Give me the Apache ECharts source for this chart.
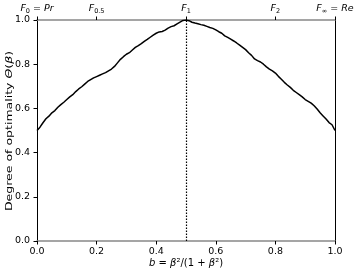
<!DOCTYPE html>
<html><head><meta charset="utf-8">
<script src="https://cdn.jsdelivr.net/npm/echarts@6/dist/echarts.min.js"></script>
<style>html,body{margin:0;padding:0;background:#fff}#c{width:357px;height:276px}</style>
</head><body><div id="c"></div>
<script>
const bValues = [0.00,0.01,0.02,0.03,0.04,0.05,0.06,0.07,0.08,0.09,0.10,0.11,0.12,0.13,0.14,0.15,0.16,0.17,0.18,0.19,0.20,0.21,0.22,0.23,0.24,0.25,0.26,0.27,0.28,0.29,0.30,0.31,0.32,0.33,0.34,0.35,0.36,0.37,0.38,0.39,0.40,0.41,0.42,0.43,0.44,0.45,0.46,0.47,0.48,0.49,0.50,
0.51,0.52,0.53,0.54,0.55,0.56,0.57,0.58,0.59,0.60,0.61,0.62,0.63,0.64,0.65,0.66,0.67,0.68,0.69,0.70,0.71,0.72,0.73,0.74,0.75,0.76,0.77,0.78,0.79,0.80,0.81,0.82,0.83,0.84,0.85,0.86,0.87,0.88,0.89,0.90,0.91,0.92,0.93,0.94,0.95,0.96,0.97,0.98,0.99,1.00];
const optimality = [0.500,0.515,0.535,0.553,0.565,0.580,0.590,0.605,0.617,0.628,0.640,0.652,0.662,0.676,0.688,0.698,0.710,0.722,0.730,0.738,0.744,0.750,0.756,0.762,0.770,0.778,0.790,0.806,0.822,0.834,0.845,0.852,0.864,0.876,0.884,0.893,0.903,0.912,0.922,0.932,0.940,0.946,0.948,0.954,0.963,0.970,0.974,0.982,0.990,0.998,1.000,
0.997,0.990,0.986,0.983,0.979,0.976,0.971,0.966,0.962,0.955,0.947,0.940,0.928,0.921,0.913,0.905,0.896,0.886,0.876,0.866,0.852,0.840,0.824,0.816,0.810,0.800,0.788,0.778,0.770,0.760,0.745,0.732,0.718,0.706,0.695,0.682,0.672,0.662,0.652,0.640,0.632,0.624,0.612,0.597,0.580,0.566,0.552,0.536,0.526,0.500];
const bottomTicks = [0, 0.2, 0.4, 0.6, 0.8, 1.0];
const yTicks = [0, 0.2, 0.4, 0.6, 0.8, 1.0];
const topTickValues = [0, 0.2, 0.5, 0.8, 1.0];
const topTickLabels = ['{i|F}{s|0}{n| = }{i|Pr}', '{i|F}{s|0.5}', '{i|F}{s|1}', '{i|F}{s|2}', '{i|F}{s|∞}{n| = }{i|Re}'];
const yAxisTitle = '{n|Degree of optimality }{i|Θ}{n|(}{i|β}{n|)}';
const xAxisTitle = '{i|b}{n| = }{i|β}{n|²/(1 + }{i|β}{n|²)}';
const F1Position = 0.5;

const FONT = 'DejaVu Sans';
const FS = 9.5;
const richStyles = {
  i: {fontFamily: FONT, fontSize: FS, fontStyle: 'italic', color: '#000'},
  n: {fontFamily: FONT, fontSize: FS, color: '#000'},
  s: {fontFamily: FONT, fontSize: 6.5, color: '#000', padding: [5, 0, 0, 0]}
};
const nameRich = {
  i: {fontFamily: FONT, fontSize: 10, fontStyle: 'italic', fill: '#000', color: '#000'},
  n: {fontFamily: FONT, fontSize: 10, fill: '#000', color: '#000'}
};
const tickStyle = {show: true, inside: false, length: 3.5, lineStyle: {color: '#000', width: 1}};
const chart = echarts.init(document.getElementById('c'), null, {renderer: 'canvas'});
chart.setOption({
  animation: false,
  backgroundColor: '#fff',
  grid: {left: 37, right: 22, top: 20, bottom: 35, outerBoundsMode: 'none', containLabel: false},
  graphic: [{
    type: 'text', x: 10, y: 131, rotation: Math.PI / 2, scaleX: 1.25, scaleY: 0.95,
    style: {text: yAxisTitle, align: 'center', verticalAlign: 'middle', rich: nameRich, fill: '#000', font: '10px "DejaVu Sans"'}
  }],
  xAxis: [{
    type: 'value', position: 'bottom', min: 0, max: 1, interval: 0.2,
    axisLine: {show: true, onZero: false, lineStyle: {color: '#888', width: 1.5}},
    axisTick: Object.assign({}, tickStyle, {customValues: bottomTicks}),
    axisLabel: {fontFamily: FONT, fontSize: FS, color: '#000', margin: 6, customValues: bottomTicks, formatter: v => v.toFixed(1)},
    splitLine: {show: false},
    name: xAxisTitle, nameLocation: 'middle', nameGap: 17, nameMoveOverlap: false,
    nameTextStyle: {rich: nameRich}
  }, {
    type: 'value', position: 'top', min: 0, max: 1, interval: 0.1,
    axisLine: {show: true, onZero: false, lineStyle: {color: '#888', width: 1.5}},
    axisTick: Object.assign({}, tickStyle, {customValues: topTickValues}),
    axisLabel: {margin: 5, customValues: topTickValues,
      formatter: v => { const k = topTickValues.findIndex(t => Math.abs(t - v) < 1e-6); return k >= 0 ? topTickLabels[k] : ''; },
      rich: richStyles},
    splitLine: {show: false}
  }],
  yAxis: [{
    type: 'value', position: 'left', min: 0, max: 1, interval: 0.2,
    axisLine: {show: true, onZero: false, lineStyle: {color: '#000', width: 1}},
    axisTick: Object.assign({}, tickStyle, {customValues: yTicks}),
    axisLabel: {fontFamily: FONT, fontSize: FS, color: '#000', margin: 7, customValues: yTicks, formatter: v => v.toFixed(1)},
    splitLine: {show: false}
  }, {
    type: 'value', position: 'right', min: 0, max: 1, interval: 0.2,
    axisLine: {show: true, onZero: false, lineStyle: {color: '#000', width: 1}},
    axisTick: {show: false}, axisLabel: {show: false}, splitLine: {show: false}
  }],
  series: [{
    type: 'line', xAxisIndex: 0, yAxisIndex: 0,
    data: bValues.map((b, k) => [b, optimality[k]]),
    showSymbol: false, lineStyle: {color: '#000', width: 1.5}, z: 5,
    markLine: {silent: true, symbol: 'none', label: {show: false},
      lineStyle: {color: '#000', type: [1.5, 1.5], width: 1.2},
      data: [[{coord: [F1Position, 0]}, {coord: [F1Position, 1]}]]}
  }]
});
</script></body></html>
